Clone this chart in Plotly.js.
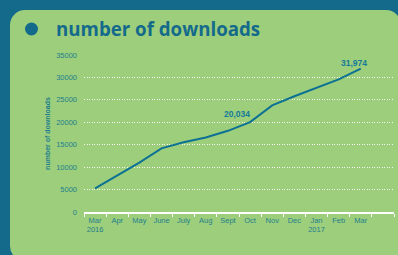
<!DOCTYPE html>
<html>
<head>
<meta charset="utf-8">
<script src="https://cdn.plot.ly/plotly-3.0.1.min.js"></script>
<style>
  html, body { margin: 0; padding: 0; background: #146a8b; overflow: hidden; }
  #wrap { position: relative; width: 398px; height: 255px; overflow: hidden; background: #146a8b; }
  #card { position: absolute; left: 9.5px; top: 9.5px; width: 391px; height: 251px; border-radius: 15px; background: #9dce7c; }
  #chart { position: absolute; left: 0; top: 0; width: 398px; height: 255px; }
</style>
</head>
<body>
<div id="wrap">
  <div id="card"></div>
  <div id="chart"></div>
</div>
<script>
const months = ['Mar<br>2016','Apr','May','June','July','Aug','Sept','Oct','Nov','Dec','Jan<br>2017','Feb','Mar'];
const downloads = [5250, 8050, 10990, 14200, 15560, 16600, 18100, 20034, 23770, 25800, 27650, 29550, 31974];
const slots = months.concat([' ']);
const labelled = [
  {month: 'Oct', value: 20034, text: '20,034', dx: -13, dy: 8},
  {month: 'Mar', value: 31974, text: '31,974', dx: -7, dy: 6}
];
const yTicks = [0, 5000, 10000, 15000, 20000, 25000, 30000, 35000];

const teal = '#146a8b';
const tickTeal = '#1f7f8c';

const trace = {
  x: months,
  y: downloads,
  type: 'scatter',
  mode: 'lines',
  line: {color: '#0d7193', width: 2},
  hoverinfo: 'skip'
};

const layout = {
  width: 398,
  height: 255,
  margin: {l: 84, r: 4, t: 55, b: 43},
  paper_bgcolor: 'rgba(0,0,0,0)',
  plot_bgcolor: 'rgba(0,0,0,0)',
  showlegend: false,
  title: {
    text: '<b>number of downloads</b>',
    font: {family: 'Open Sans, sans-serif', size: 18.7, color: teal},
    xref: 'container', yref: 'container',
    x: 56/398, xanchor: 'left',
    y: 1 - 29/255, yanchor: 'middle'
  },
  xaxis: {
    type: 'category',
    categoryorder: 'array',
    categoryarray: slots,
    range: [-0.5, 13.5],
    tickson: 'boundaries',
    tickangle: 0,
    ticks: 'outside',
    ticklen: 3,
    tickwidth: 1,
    tickcolor: '#ffffff',
    showline: true,
    linecolor: '#ffffff',
    linewidth: 1.5,
    showgrid: false,
    zeroline: false,
    tickfont: {family: 'Liberation Sans, Arial, sans-serif', size: 7.5, color: tickTeal},
    fixedrange: true
  },
  yaxis: {
    range: [0, 35000],
    tickvals: yTicks,
    tickformat: 'd',
    showgrid: true,
    gridcolor: 'rgba(255,255,255,0.9)',
    griddash: '1px,1.5px',
    gridwidth: 1,
    zeroline: false,
    showline: false,
    ticks: '',
    ticklabelstandoff: 6,
    tickfont: {family: 'Liberation Sans, Arial, sans-serif', size: 7.5, color: tickTeal},
    title: {
      text: '<b>number of downloads</b>',
      font: {family: 'Liberation Sans, Arial, sans-serif', size: 7, color: tickTeal},
      standoff: 4
    },
    fixedrange: true
  },
  shapes: [{
    type: 'circle',
    xref: 'paper', yref: 'paper',
    x0: (25 - 84) / 310, x1: (38 - 84) / 310,
    y0: (212 - 35.5) / 157, y1: (212 - 22.5) / 157,
    fillcolor: teal,
    line: {width: 0}
  }],
  annotations: labelled.map(a => ({
    x: a.month, y: a.value, text: '<b>' + a.text + '</b>',
    showarrow: false, xshift: a.dx, yshift: a.dy,
    font: {family: 'Liberation Sans, Arial, sans-serif', size: 8.5, color: '#147a98'}
  }))
};

Plotly.newPlot('chart', [trace], layout, {displayModeBar: false, staticPlot: true});
</script>
</body>
</html>
